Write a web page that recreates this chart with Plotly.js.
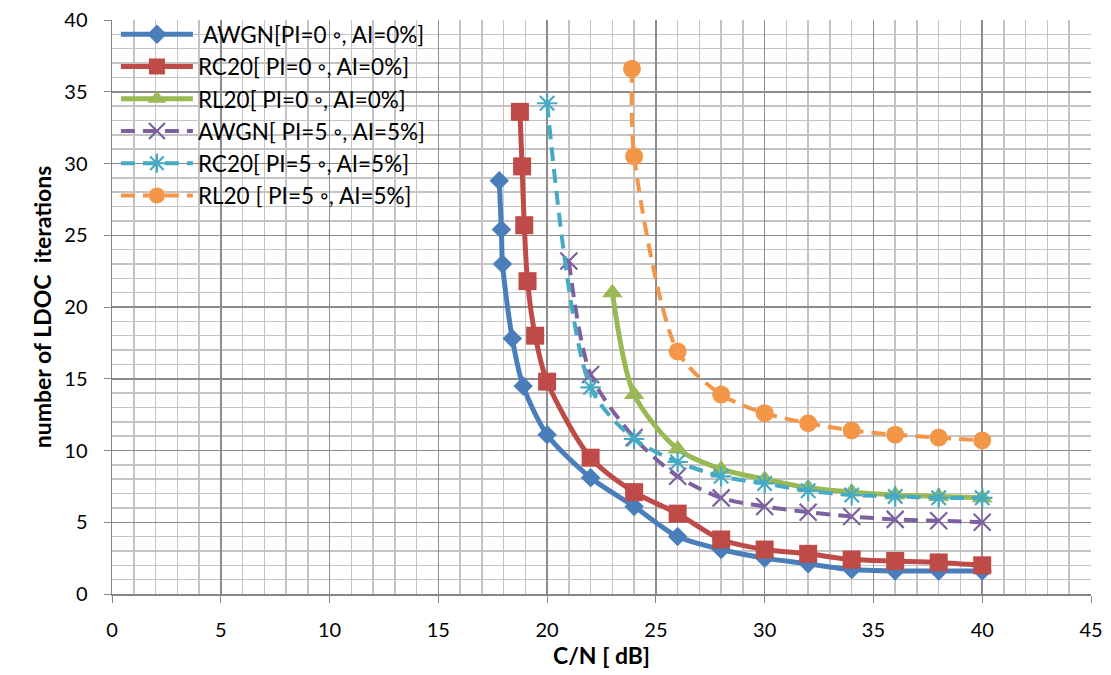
<!DOCTYPE html>
<html>
<head>
<meta charset="utf-8">
<script src="https://cdn.plot.ly/plotly-3.0.1.min.js"></script>
<style>html,body{margin:0;padding:0;background:#fff}#chart{width:1111px;height:675px}</style>
</head>
<body>
<div id="chart"></div>
<script>
// Series names
const seriesNames = [
  " AWGN[PI=0 \u25E6, AI=0%]",
  "RC20[ PI=0 \u25E6, AI=0%]",
  "RL20[ PI=0 \u25E6, AI=0%]",
  "AWGN[ PI=5 \u25E6, AI=5%]",
  "RC20[ PI=5 \u25E6, AI=5%]",
  "RL20 [ PI=5 \u25E6, AI=5%]"
];

// C/N [dB] values and iterations per series
const awgn0X = [17.8, 17.9, 17.95, 18.4, 18.9, 20, 22, 24, 26, 28, 30, 32, 34, 36, 38, 40];
const awgn0Y = [28.8, 25.4, 23.0, 17.8, 14.5, 11.1, 8.1, 6.1, 4.0, 3.1, 2.5, 2.1, 1.7, 1.6, 1.6, 1.6];

const rc0X = [18.75, 18.85, 18.95, 19.1, 19.45, 20, 22, 24, 26, 28, 30, 32, 34, 36, 38, 40];
const rc0Y = [33.6, 29.8, 25.7, 21.8, 18.0, 14.8, 9.5, 7.1, 5.6, 3.8, 3.1, 2.8, 2.4, 2.3, 2.2, 2.0];

const rl0X = [23, 24, 26, 28, 30, 32, 34, 36, 38, 40];
const rl0Y = [21.0, 13.9, 10.1, 8.7, 8.0, 7.4, 7.1, 6.9, 6.8, 6.7];

const awgn5X = [21, 22, 24, 26, 28, 30, 32, 34, 36, 38, 40];
const awgn5Y = [23.2, 15.3, 10.9, 8.2, 6.7, 6.1, 5.7, 5.4, 5.2, 5.1, 5.0];

const rc5X = [20, 22, 24, 26, 28, 30, 32, 34, 36, 38, 40];
const rc5Y = [34.2, 14.4, 10.8, 9.2, 8.2, 7.7, 7.2, 6.9, 6.8, 6.7, 6.7];

const rl5X = [23.9, 24, 26, 28, 30, 32, 34, 36, 38, 40];
const rl5Y = [36.6, 30.5, 16.9, 13.9, 12.6, 11.9, 11.4, 11.1, 10.9, 10.7];

const colors = ["#4A7EBB", "#BE4B48", "#98B954", "#7D60A0", "#46AAC5", "#F39647"];

const dashed = "14px,8px";

const traces = [
  {x: awgn0X, y: awgn0Y, name: seriesNames[0],
   line: {color: colors[0], width: 5, shape: "spline", smoothing: 0.8},
   marker: {symbol: "diamond", size: 15, color: colors[0]}},
  {x: rc0X, y: rc0Y, name: seriesNames[1],
   line: {color: colors[1], width: 5, shape: "spline", smoothing: 0.8},
   marker: {symbol: "square", size: 18, color: colors[1]}},
  {x: rl0X, y: rl0Y, name: seriesNames[2],
   line: {color: colors[2], width: 5, shape: "spline", smoothing: 0.8},
   marker: {symbol: "triangle-up", size: 18, color: colors[2]}},
  {x: awgn5X, y: awgn5Y, name: seriesNames[3],
   line: {color: colors[3], width: 4, dash: dashed, shape: "spline", smoothing: 0.8},
   marker: {symbol: "x-thin-open", size: 17, color: colors[3], line: {color: colors[3], width: 2.2}}},
  {x: rc5X, y: rc5Y, name: seriesNames[4],
   line: {color: colors[4], width: 4, dash: dashed, shape: "spline", smoothing: 0.8},
   marker: {symbol: "asterisk-open", size: 17, color: colors[4], line: {color: colors[4], width: 2.2}}},
  {x: rl5X, y: rl5Y, name: seriesNames[5],
   line: {color: colors[5], width: 4, dash: dashed, shape: "spline", smoothing: 0.8},
   marker: {symbol: "circle", size: 18, color: colors[5]}}
].map(t => Object.assign({type: "scatter", mode: "lines+markers"}, t));

const fontFam = "Lato, 'Open Sans', sans-serif";

const layout = {
  width: 1111, height: 675,
  margin: {l: 112, r: 20, t: 20, b: 81},
  paper_bgcolor: "#fff", plot_bgcolor: "#fff",
  font: {family: fontFam, size: 20, color: "#000"},
  showlegend: true,
  legend: {
    x: 0.004, y: 1.012, xanchor: "left", yanchor: "top",
    bgcolor: "rgba(0,0,0,0)", borderwidth: 0,
    itemwidth: 72, tracegroupgap: 0,
    font: {family: fontFam, size: 22.5, color: "#000"}
  },
  xaxis: {
    range: [0, 45], dtick: 5, tick0: 0,
    showline: true, linecolor: "#868686", linewidth: 1.5,
    ticks: "outside", ticklen: 7, tickcolor: "#868686",
    ticklabelstandoff: 10,
    showgrid: true, gridcolor: "#8c8c8c", gridwidth: 1.5,
    zeroline: false,
    minor: {dtick: 1, showgrid: true, gridcolor: "#c4c4c4", gridwidth: 1.5},
    tickfont: {family: fontFam, size: 20},
    title: {text: "C/N [ dB]", font: {family: fontFam, size: 23, weight: "bold"}, standoff: 8}
  },
  yaxis: {
    range: [0, 40], dtick: 5, tick0: 0,
    showline: true, linecolor: "#868686", linewidth: 1.5,
    ticks: "outside", ticklen: 7, tickcolor: "#868686",
    ticklabelstandoff: 12,
    showgrid: true, gridcolor: "#8c8c8c", gridwidth: 1.5,
    zeroline: false,
    minor: {dtick: 1, showgrid: true, gridcolor: "#c4c4c4", gridwidth: 1.5},
    tickfont: {family: fontFam, size: 20},
    title: {text: "number of LDOC  iterations", font: {family: fontFam, size: 23, weight: "bold"}, standoff: 6}
  }
};

Plotly.newPlot("chart", traces, layout, {displayModeBar: false, staticPlot: true});
</script>
</body>
</html>
